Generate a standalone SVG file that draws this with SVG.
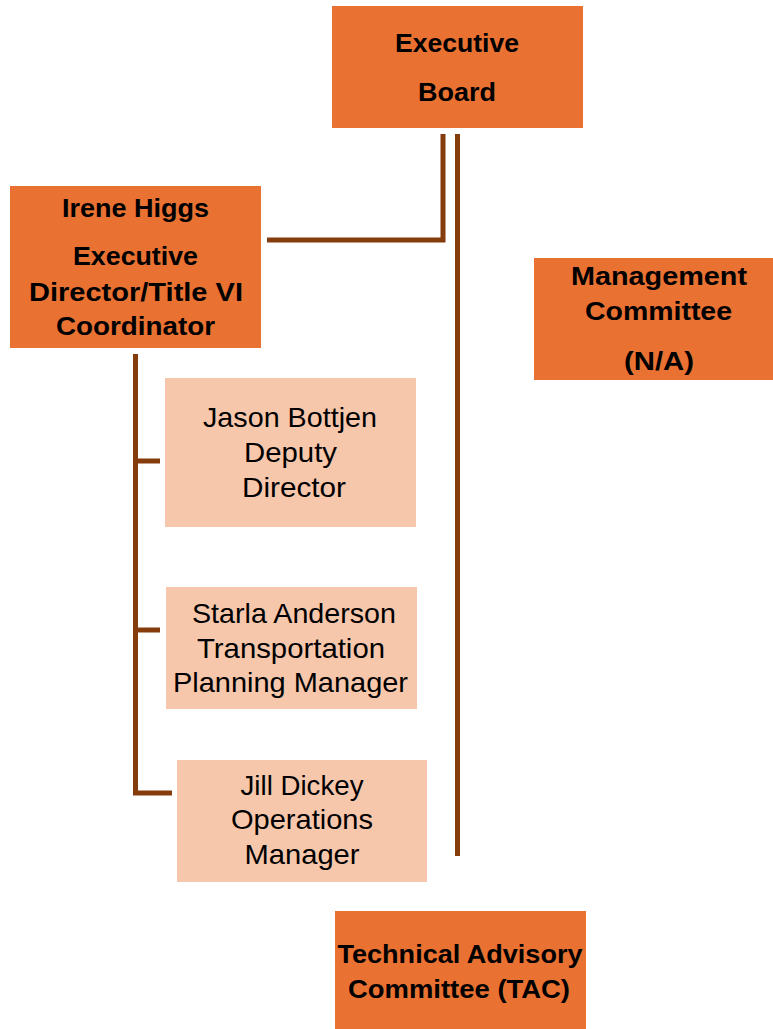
<svg xmlns="http://www.w3.org/2000/svg" width="773" height="1029" viewBox="0 0 773 1029">
<style>
.dark{fill:#E97132;}
.light{fill:#F7C7AC;}
.b{font-family:"Liberation Sans",Arial,sans-serif;font-weight:bold;font-size:26px;fill:#000;text-anchor:middle;}
.r{font-family:"Liberation Sans",Arial,sans-serif;font-size:28px;fill:#000;text-anchor:middle;}
.conn{fill:none;stroke:#843C0C;stroke-width:5;stroke-linejoin:miter;stroke-linecap:butt;}
</style>
<rect width="773" height="1029" fill="#fff"/>
<g id="connectors">
<path class="conn" d="M443,134 V240 H267"/>
<path class="conn" d="M457.5,134 V856"/>
<path class="conn" d="M135.5,354 V793 H172"/>
<path class="conn" d="M135.5,461 H160"/>
<path class="conn" d="M135.5,630 H160"/>
</g>
<g id="executive-board">
<rect class="dark" x="332" y="6" width="251" height="122"/>
<text class="b" x="457" y="52" textLength="124" lengthAdjust="spacingAndGlyphs">Executive</text>
<text class="b" x="457" y="101" textLength="78" lengthAdjust="spacingAndGlyphs">Board</text>
</g>
<g id="irene-higgs">
<rect class="dark" x="10" y="186" width="251" height="162"/>
<text class="b" x="135.5" y="217" textLength="147" lengthAdjust="spacingAndGlyphs">Irene Higgs</text>
<text class="b" x="135.5" y="265" textLength="125" lengthAdjust="spacingAndGlyphs">Executive</text>
<text class="b" x="136" y="300.5" textLength="214" lengthAdjust="spacingAndGlyphs">Director/Title VI</text>
<text class="b" x="135.5" y="335" textLength="159" lengthAdjust="spacingAndGlyphs">Coordinator</text>
</g>
<g id="management-committee">
<rect class="dark" x="534" y="258" width="239" height="122"/>
<text class="b" x="659" y="285" textLength="176" lengthAdjust="spacingAndGlyphs">Management</text>
<text class="b" x="658.5" y="320" textLength="147" lengthAdjust="spacingAndGlyphs">Committee</text>
<text class="b" x="659" y="370" textLength="70" lengthAdjust="spacingAndGlyphs">(N/A)</text>
</g>
<g id="jason-bottjen">
<rect class="light" x="165" y="378" width="251" height="149"/>
<text class="r" x="290" y="426.5" textLength="174" lengthAdjust="spacingAndGlyphs">Jason Bottjen</text>
<text class="r" x="290.5" y="461.5" textLength="93" lengthAdjust="spacingAndGlyphs">Deputy</text>
<text class="r" x="294" y="496.5" textLength="104" lengthAdjust="spacingAndGlyphs">Director</text>
</g>
<g id="starla-anderson">
<rect class="light" x="166" y="587" width="251" height="122"/>
<text class="r" x="294" y="623" textLength="204" lengthAdjust="spacingAndGlyphs">Starla Anderson</text>
<text class="r" x="291" y="657.5" textLength="188" lengthAdjust="spacingAndGlyphs">Transportation</text>
<text class="r" x="290.5" y="692" textLength="235" lengthAdjust="spacingAndGlyphs">Planning Manager</text>
</g>
<g id="jill-dickey">
<rect class="light" x="177" y="760" width="250" height="122"/>
<text class="r" x="302" y="795" textLength="123" lengthAdjust="spacingAndGlyphs">Jill Dickey</text>
<text class="r" x="302" y="829" textLength="142" lengthAdjust="spacingAndGlyphs">Operations</text>
<text class="r" x="302" y="864" textLength="115" lengthAdjust="spacingAndGlyphs">Manager</text>
</g>
<g id="tac">
<rect class="dark" x="335" y="911" width="251" height="118"/>
<text class="b" x="460" y="963" textLength="245" lengthAdjust="spacingAndGlyphs">Technical Advisory</text>
<text class="b" x="459" y="998" textLength="222" lengthAdjust="spacingAndGlyphs">Committee (TAC)</text>
</g>
</svg>
